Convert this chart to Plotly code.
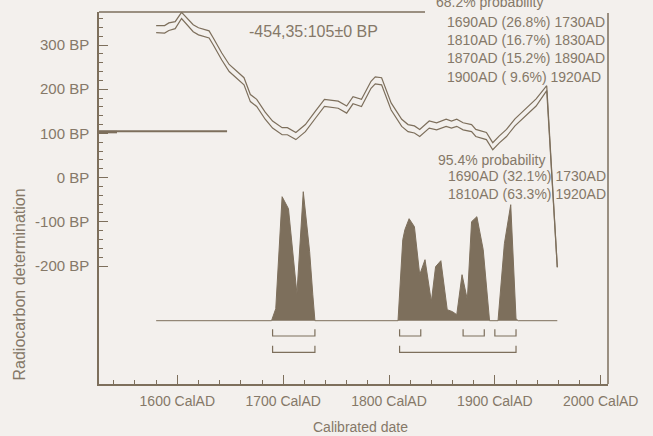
import plotly.graph_objects as go

# ---------------- data ----------------
curve_years = [1580, 1588, 1592, 1598, 1604, 1615, 1620, 1630, 1634, 1642, 1649, 1657, 1663,
               1669, 1675, 1683, 1690, 1699, 1704, 1712, 1721, 1731, 1739, 1752, 1760, 1766,
               1774, 1783, 1787, 1793, 1798, 1802, 1812, 1818, 1824, 1829, 1838, 1845, 1854,
               1859, 1864, 1870, 1878, 1882, 1892, 1898, 1904, 1911, 1919, 1925, 1933, 1939,
               1949, 1959]
curve_upper = [344, 344, 350, 353, 374, 346, 339, 332, 316, 282, 256, 239, 226,
               188, 177, 148, 128, 113, 113, 102, 120, 152, 177, 173, 162, 183,
               177, 218, 228, 226, 192, 169, 132, 120, 117, 109, 128, 124, 132,
               128, 132, 124, 120, 109, 102, 79, 94, 109, 133, 147, 166, 178,
               208, -203]
curve_lower = [328, 327, 333, 337, 360, 330, 323, 316, 300, 266, 240, 223, 210,
               172, 161, 132, 112, 97, 97, 86, 104, 136, 161, 157, 146, 167,
               161, 202, 212, 210, 176, 153, 116, 104, 101, 93, 112, 108, 116,
               112, 116, 108, 104, 93, 86, 63, 78, 93, 117, 131, 150, 162,
               197, -203]

meas_bp = 105
meas_years = [1526, 1647]
meas_peak_years = [1526, 1543]

dist_years = [1580, 1689, 1693, 1699, 1705, 1713, 1719, 1725, 1728, 1730,
              1808.5, 1813, 1815, 1819, 1824, 1829, 1834, 1840, 1844, 1849, 1855,
              1860, 1864, 1869, 1874, 1878, 1883, 1889, 1895, 1903, 1909, 1915,
              1920, 1922, 1959]
dist_prob = [0, 0, 0.12, 1.24, 1.12, 0.27, 1.29, 0.69, 0.26, 0,
             0, 0.81, 0.91, 1.02, 0.94, 0.46, 0.61, 0.19, 0.54, 0.60, 0.11,
             0.09, 0.06, 0.46, 0.21, 0.99, 1.04, 0.71, 0, 0, 0.77, 1.16,
             0.02, 0, 0]

r68_start = [1690, 1810, 1870, 1900]
r68_end = [1730, 1830, 1890, 1920]
r68_pct = ["26.8%", "16.7%", "15.2%", " 9.6%"]
r95_start = [1690, 1810]
r95_end = [1730, 1920]
r95_pct = ["32.1%", "63.3%"]

y_major = [-200, -100, 0, 100, 200, 300]
y_labels = ["-200 BP", "-100 BP", "0 BP", "100 BP", "200 BP", "300 BP"]
x_major = [1600, 1700, 1800, 1900, 2000]
x_labels = ["1600 CalAD", "1700 CalAD", "1800 CalAD", "1900 CalAD", "2000 CalAD"]

# ---------------- style ----------------
W, H = 653, 436
L, R, T, B = 99, 608, 12, 384
BG = "#F3F0ED"
LC = "#7D6F5C"
TC = "#857868"
FONT = "Liberation Sans, Arial, sans-serif"


def px(x):
    return (x - L) / (R - L)


def py(y):
    return (B - y) / (B - T)


fig = go.Figure()

# calibration curve
for ys in (curve_upper, curve_lower):
    fig.add_trace(go.Scatter(x=curve_years, y=ys, mode="lines",
                             line=dict(color=LC, width=1.2), hoverinfo="skip"))

# measurement
fig.add_trace(go.Scatter(x=meas_years, y=[meas_bp, meas_bp], mode="lines",
                         line=dict(color=LC, width=2), hoverinfo="skip"))
fig.add_trace(go.Scatter(x=meas_peak_years, y=[meas_bp - 2, meas_bp - 2], mode="lines",
                         line=dict(color=LC, width=2.5), hoverinfo="skip"))

# probability distribution
fig.add_trace(go.Scatter(x=dist_years, y=dist_prob, mode="lines", yaxis="y2",
                         fill="tozeroy", fillcolor=LC,
                         line=dict(color=LC, width=1), hoverinfo="skip"))


# brackets
def bracket(s, e, ytop, ybot):
    fig.add_trace(go.Scatter(x=[s, s, e, e], y=[ytop, ybot, ybot, ytop], mode="lines",
                             yaxis="y2", line=dict(color=LC, width=1.2), hoverinfo="skip"))


for s, e in zip(r68_start, r68_end):
    bracket(s, e, -0.086, -0.153)
for s, e in zip(r95_start, r95_end):
    bracket(s, e, -0.25, -0.316)

x_minor = [v for v in range(1540, 2001, 20) if v not in x_major]
y_minor = [v for v in range(-180, 361, 20) if v not in y_major]

fig.update_layout(
    width=W, height=H,
    margin=dict(l=L, r=W - R, t=T, b=H - B),
    paper_bgcolor=BG, plot_bgcolor=BG,
    showlegend=False,
    font=dict(family=FONT, color=TC, size=15),
    xaxis=dict(range=[1526, 2006.9], showgrid=False, zeroline=False,
               showline=True, linecolor=LC, linewidth=1.5,
               tickmode="array", tickvals=x_major, ticktext=x_labels,
               ticks="inside", ticklen=9, tickwidth=1.2, tickcolor=LC,
               tickfont=dict(size=14, color=TC), ticklabelstandoff=3,
               minor=dict(tickmode="array", tickvals=x_minor, ticks="inside",
                          ticklen=4, tickwidth=1, tickcolor=LC, showgrid=False)),
    yaxis=dict(range=[-467, 374.7], showgrid=False, zeroline=False,
               showline=True, linecolor=LC, linewidth=1.5,
               tickmode="array", tickvals=y_major, ticktext=y_labels,
               ticks="inside", ticklen=9, tickwidth=1.2, tickcolor=LC,
               tickfont=dict(size=15, color=TC), ticklabelstandoff=5,
               minor=dict(tickmode="array", tickvals=y_minor, ticks="inside",
                          ticklen=4, tickwidth=1, tickcolor=LC, showgrid=False)),
    yaxis2=dict(range=[-0.633, 3.087], overlaying="y", visible=False),
)

# partial frame lines (top, right)
fig.add_shape(type="line", xref="paper", yref="paper", x0=0, x1=px(425), y0=1, y1=1,
              line=dict(color=LC, width=1.5))
fig.add_shape(type="line", xref="paper", yref="paper", x0=1, x1=1, y0=0, y1=py(13),
              line=dict(color=LC, width=1.5))


def text(s, x, y, size=14, anchor="left"):
    fig.add_annotation(text=s, xref="paper", yref="paper", x=px(x), y=py(y),
                       xanchor=anchor, yanchor="middle", showarrow=False,
                       font=dict(size=size, color=TC, family=FONT))


text("-454,35:105±0 BP", 247, 32, size=16)
text("68.2% probability", 434, 2.5)
for i, (s, e, p) in enumerate(zip(r68_start, r68_end, r68_pct)):
    text(f"{s}AD ({p}) {e}AD", 445, 21.7 + 18.3 * i)
text("95.4% probability", 436, 159.5)
for i, (s, e, p) in enumerate(zip(r95_start, r95_end, r95_pct)):
    text(f"{s}AD ({p}) {e}AD", 446, 176 + 17.6 * i)

# axis titles
fig.add_annotation(text="Calibrated date", xref="paper", yref="paper",
                   x=px(360), y=py(427), xanchor="center", yanchor="middle",
                   showarrow=False, font=dict(size=14, color=TC, family=FONT))
fig.add_annotation(text="Radiocarbon determination", xref="paper", yref="paper",
                   x=px(18.5), y=py(285), xanchor="center", yanchor="middle",
                   textangle=-90, showarrow=False,
                   font=dict(size=16, color=TC, family=FONT))

fig.write_html("out.html", config={"displayModeBar": False},
               post_script="document.body.style.margin='0';")
